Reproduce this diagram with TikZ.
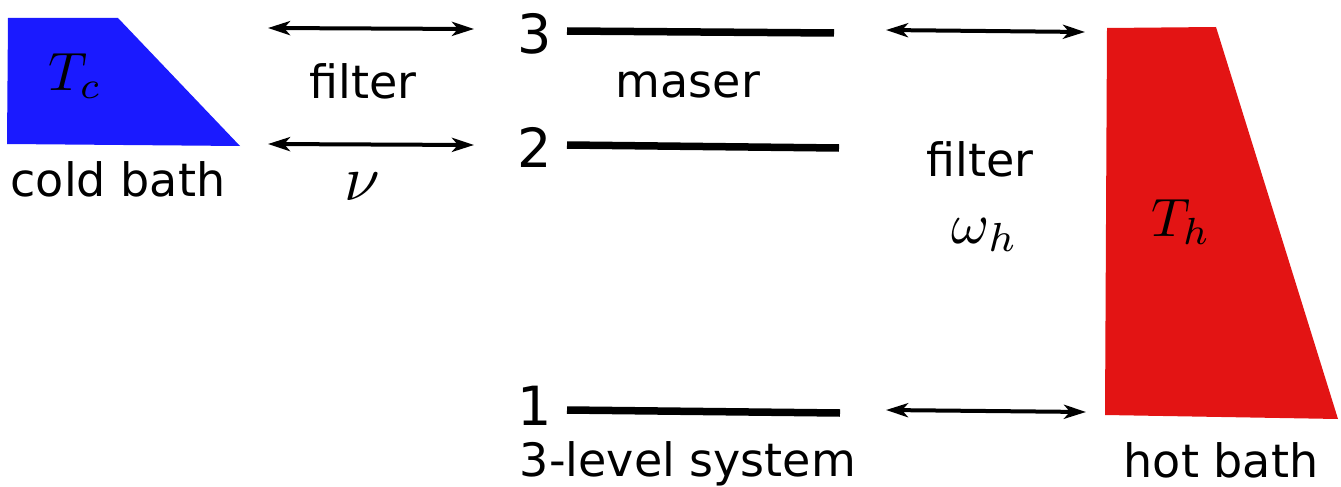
\documentclass[tikz,border=0pt]{standalone}
\usepackage{fontspec}
\setmainfont{DejaVu Sans}
\usetikzlibrary{arrows.meta}
\definecolor{coldblue}{HTML}{1A1AFF}
\definecolor{hotred}{HTML}{E31414}
\newcommand{\bigmath}[2]{\scalebox{#1}{\fontsize{10}{12}\selectfont$#2$}}
\tikzset{
  lbl/.style={font=\fontsize{46}{50}\selectfont, inner sep=0pt, anchor=base},
  digit/.style={font=\fontsize{54}{58}\selectfont, inner sep=0pt},
  mth/.style={inner sep=0pt},
  level/.style={line width=7.5pt},
  coupling/.style={line width=4pt, {Stealth[length=22pt,width=14pt,inset=6pt]}-{Stealth[length=22pt,width=14pt,inset=6pt]}},
}
\begin{document}
\begin{tikzpicture}[x=1pt,y=-1pt]
\useasboundingbox (0,0) rectangle (1341,487);
% baths
\fill[coldblue] (8,18) -- (118,18) -- (240,146) -- (7,144) -- cycle;
\fill[hotred] (1107,28) -- (1216,27) -- (1338,419) -- (1105,415) -- cycle;
\node[mth] (Tc) at (75,76) {\bigmath{5.4}{T_c}};
\node[mth] (Th) at (1181,222) {\bigmath{5.4}{T_h}};
\node[lbl] (cold) at (118,196) {cold bath};
\node[lbl] (hot) at (1221,477) {hot bath};
% levels
\coordinate (l3a) at (567,31); \coordinate (l3b) at (834,33);
\coordinate (l2a) at (567,145); \coordinate (l2b) at (839,148);
\coordinate (l1a) at (567,410); \coordinate (l1b) at (840,413);
\draw[level] (l3a) -- (l3b);
\draw[level] (l2a) -- (l2b);
\draw[level] (l1a) -- (l1b);
\node[digit] (n3) at (535,34) {3};
\node[digit] (n2) at (535,147) {2};
\node[digit] (n1) at (535,406) {1};
\node[lbl] (maser) at (688,97) {maser};
\node[lbl] (sys) at (688,476) {3-level system};
% couplings
\coordinate (c1a) at (268,28); \coordinate (c1b) at (474,29);
\coordinate (c2a) at (268,144); \coordinate (c2b) at (474,145);
\coordinate (h1a) at (886,30); \coordinate (h1b) at (1085,32);
\coordinate (h2a) at (886,410); \coordinate (h2b) at (1086,412);
\draw[coupling] (c1a) -- (c1b);
\draw[coupling] (c2a) -- (c2b);
\draw[coupling] (h1a) -- (h1b);
\draw[coupling] (h2a) -- (h2b);
\node[lbl] (filtc) at (363,99) {filter};
\node[mth] (nu) at (362,187) {\bigmath{6.4}{\nu}};
\node[lbl] (filth) at (980,176) {filter};
\node[mth] (omh) at (985,235) {\bigmath{5.8}{\omega_h}};
\end{tikzpicture}
\end{document}
